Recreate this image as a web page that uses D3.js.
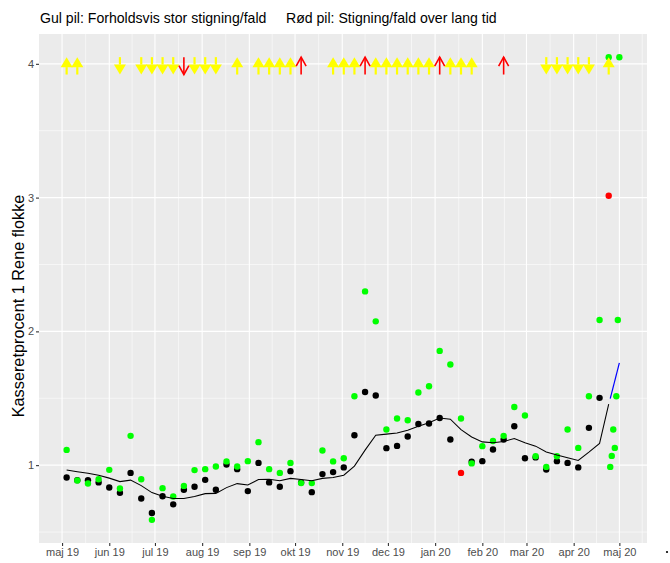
<!DOCTYPE html>
<html>
<head>
<meta charset="utf-8">
<script src="https://cdn.jsdelivr.net/npm/d3@7"></script>
<style>
  body { margin: 0; background: #ffffff; }
  text { font-family: "Liberation Sans", Arial, sans-serif; }
</style>
</head>
<body>
<svg id="chart" width="670" height="563"></svg>
<script>
// ---------------- DATA ----------------
const weekDates = [
  "2019-05-04","2019-05-11","2019-05-18","2019-05-25","2019-06-01","2019-06-08","2019-06-15","2019-06-22",
  "2019-06-29","2019-07-06","2019-07-13","2019-07-20","2019-07-27","2019-08-03","2019-08-10","2019-08-17",
  "2019-08-24","2019-08-31","2019-09-07","2019-09-14","2019-09-21","2019-09-28","2019-10-05","2019-10-12",
  "2019-10-19","2019-10-26","2019-11-02","2019-11-09","2019-11-16","2019-11-23","2019-11-30","2019-12-07",
  "2019-12-14","2019-12-21","2019-12-28","2020-01-04","2020-01-11","2020-01-18","2020-01-25","2020-02-01",
  "2020-02-08","2020-02-15","2020-02-22","2020-02-29","2020-03-07","2020-03-14","2020-03-21","2020-03-28",
  "2020-04-04","2020-04-11","2020-04-18","2020-04-24"
];
// weekly flock value (black points; outliers drawn red)
const blackVals = [
  0.908,0.888,0.888,0.871,0.833,0.793,0.942,0.751,
  0.642,0.768,0.707,0.816,0.838,0.890,0.816,1.005,
  0.970,0.806,1.017,0.871,0.838,0.955,0.871,0.798,
  0.933,0.948,0.983,1.224,1.547,1.521,1.127,1.144,
  1.214,1.308,1.311,1.353,1.192,0.942,1.025,1.030,
  1.117,1.192,1.291,1.052,1.058,0.968,1.030,1.017,
  0.983,1.279,1.503,3.014
];
const redPointIdx = [37, 51];
// green points
const greenVals = [
  1.114,0.885,0.863,0.895,0.965,0.826,1.219,0.895,
  0.591,0.828,0.766,0.845,0.963,0.970,0.990,1.028,
  0.990,1.030,1.172,0.970,0.942,1.017,0.866,0.866,
  1.110,1.028,1.052,1.515,2.299,2.075,1.267,1.349,
  1.336,1.543,1.590,1.854,1.752,1.349,1.013,1.142,
  1.181,1.219,1.435,1.371,1.067,0.987,1.067,1.267,
  1.129,1.515,2.085,4.049
];
const dailyDates = ["2020-04-25","2020-04-26","2020-04-27","2020-04-28","2020-04-29","2020-04-30","2020-05-01"];
const dailyGreen = [0.987,1.069,1.267,1.129,1.515,2.085,4.049];
// trend line (black)
const trendVals = [
  0.963,0.951,0.940,0.925,0.903,0.877,0.888,0.847,
  0.795,0.768,0.750,0.751,0.765,0.787,0.789,0.832,
  0.862,0.851,0.892,0.895,0.884,0.901,0.892,0.883,
  0.901,0.907,0.925,0.993,1.112,1.224,1.232,1.241,
  1.261,1.291,1.317,1.353,1.344,1.265,1.211,1.174,
  1.167,1.177,1.199,1.167,1.142,1.099,1.075,1.055,
  1.035,1.097,1.162,1.456
];
// blue projection
const blueDates = ["2020-04-25","2020-05-01"];
const blueVals = [1.498, 1.764];
// arrows (week indices)
const yellowUp = [0,1,16,18,19,20,21,25,26,27,29,30,31,32,33,34,36,37,38,51];
const yellowDown = [5,7,8,9,10,12,13,14,45,46,47,48,49];
const redUp = [22,28,35,41];
const redDown = [11];
// axis ticks
const xTickDates = ["2019-05-01","2019-06-01","2019-07-01","2019-08-01","2019-09-01","2019-10-01","2019-11-01",
  "2019-12-01","2020-01-01","2020-02-01","2020-03-01","2020-04-01","2020-05-01"];
const xTickLabels = ["maj 19","jun 19","jul 19","aug 19","sep 19","okt 19","nov 19","dec 19","jan 20","feb 20","mar 20","apr 20","maj 20"];
const yTicks = [1, 2, 3, 4];
const yMinor = [0.5, 1.5, 2.5, 3.5];
const titleText = "Gul pil: Forholdsvis stor stigning/fald     Rød pil: Stigning/fald over lang tid";
const yTitle = "Kasseretprocent 1 Rene flokke";

// ---------------- CHART ----------------
const parse = d3.utcParse("%Y-%m-%d");
const svg = d3.select("#chart");
const panel = { left: 39, right: 647, top: 34, bottom: 543 };

const allDates = weekDates.concat(dailyDates).map(parse);
const [dMin, dMax] = d3.extent(allDates);
const span = dMax - dMin;
const x = d3.scaleUtc()
  .domain([new Date(+dMin - span * 0.05), new Date(+dMax + span * 0.05)])
  .range([panel.left, panel.right]);

const allY = blackVals.concat(greenVals, dailyGreen, [3.92, 4.05]);
const [yMin, yMax] = d3.extent(allY);
const ySpan = yMax - yMin;
const y = d3.scaleLinear()
  .domain([yMin - ySpan * 0.05, yMax + ySpan * 0.05])
  .range([panel.bottom, panel.top]);

// background
svg.append("rect")
  .attr("x", panel.left).attr("y", panel.top)
  .attr("width", panel.right - panel.left).attr("height", panel.bottom - panel.top)
  .attr("fill", "#ebebeb");

const g = svg.append("g");

// minor x grid: midpoints between month ticks
const xt = xTickDates.map(parse);
const xMinor = [];
xMinor.push(new Date(+xt[0] - (xt[1] - xt[0]) / 2));
for (let i = 0; i < xt.length - 1; i++) xMinor.push(new Date((+xt[i] + +xt[i + 1]) / 2));
xMinor.push(new Date(+xt[xt.length - 1] + (xt[xt.length - 1] - xt[xt.length - 2]) / 2));
const xDom = x.domain();
g.selectAll(".xminor").data(xMinor.filter(d => d >= xDom[0] && d <= xDom[1])).enter().append("line")
  .attr("x1", d => x(d)).attr("x2", d => x(d))
  .attr("y1", panel.top).attr("y2", panel.bottom)
  .attr("stroke", "#ffffff").attr("stroke-width", 0.55);
g.selectAll(".yminor").data(yMinor).enter().append("line")
  .attr("x1", panel.left).attr("x2", panel.right)
  .attr("y1", d => y(d)).attr("y2", d => y(d))
  .attr("stroke", "#ffffff").attr("stroke-width", 0.55);
g.selectAll(".xmajor").data(xt).enter().append("line")
  .attr("x1", d => x(d)).attr("x2", d => x(d))
  .attr("y1", panel.top).attr("y2", panel.bottom)
  .attr("stroke", "#ffffff").attr("stroke-width", 1.1);
g.selectAll(".ymajor").data(yTicks).enter().append("line")
  .attr("x1", panel.left).attr("x2", panel.right)
  .attr("y1", d => y(d)).attr("y2", d => y(d))
  .attr("stroke", "#ffffff").attr("stroke-width", 1.1);

// axes
const xAxis = d3.axisBottom(x).tickValues(xt).tickSize(3).tickPadding(2)
  .tickFormat((d, i) => xTickLabels[i]);
const xa = svg.append("g").attr("transform", `translate(0,${panel.bottom})`).call(xAxis);
xa.select(".domain").remove();
xa.selectAll("line").attr("stroke", "#333333").attr("stroke-width", 1.1);
xa.selectAll("text").attr("fill", "#4d4d4d").style("font-size", "11px")
  .style("font-family", "'Liberation Sans', Arial, sans-serif");

const yAxis = d3.axisLeft(y).tickValues(yTicks).tickSize(3).tickPadding(2).tickFormat(d3.format("d"));
const ya = svg.append("g").attr("transform", `translate(${panel.left},0)`).call(yAxis);
ya.select(".domain").remove();
ya.selectAll("line").attr("stroke", "#333333").attr("stroke-width", 1.1);
ya.selectAll("text").attr("fill", "#4d4d4d").style("font-size", "11px")
  .style("font-family", "'Liberation Sans', Arial, sans-serif");

// points
const weeks = weekDates.map((d, i) => ({ date: parse(d), black: blackVals[i], green: greenVals[i], trend: trendVals[i], i }));
const R = 3.2;
g.selectAll(".bp").data(weeks).enter().append("circle")
  .attr("cx", d => x(d.date)).attr("cy", d => y(d.black)).attr("r", R)
  .attr("fill", d => redPointIdx.includes(d.i) ? "#ff0000" : "#000000");
g.selectAll(".gp").data(weeks).enter().append("circle")
  .attr("cx", d => x(d.date)).attr("cy", d => y(d.green)).attr("r", R)
  .attr("fill", "#00ff00");
g.selectAll(".gd").data(dailyDates.map((d, i) => ({ date: parse(d), v: dailyGreen[i] }))).enter().append("circle")
  .attr("cx", d => x(d.date)).attr("cy", d => y(d.v)).attr("r", R)
  .attr("fill", "#00ff00");

// trend line
const line = d3.line().x(d => x(d.date)).y(d => y(d.v));
g.append("path")
  .datum(weeks.map(d => ({ date: d.date, v: d.trend })))
  .attr("d", line).attr("fill", "none").attr("stroke", "#000000").attr("stroke-width", 1.05);
g.append("path")
  .datum(blueDates.map((d, i) => ({ date: parse(d), v: blueVals[i] })))
  .attr("d", line).attr("fill", "none").attr("stroke", "#0000ff").attr("stroke-width", 1.2);

// arrows
const lowV = 3.92, highV = 4.05;
function yellowArrow(idx, up) {
  const cx = x(parse(weekDates[idx]));
  const tail = up ? y(lowV) : y(highV);
  const tip = up ? y(highV) : y(lowV);
  const dir = up ? 1 : -1;
  const headLen = 10, halfW = 6;
  g.append("line").attr("x1", cx).attr("x2", cx)
    .attr("y1", tail).attr("y2", tip + dir * headLen)
    .attr("stroke", "#ffff00").attr("stroke-width", 2.2);
  g.append("path")
    .attr("d", `M${cx},${tip}L${cx - halfW},${tip + dir * headLen}L${cx + halfW},${tip + dir * headLen}Z`)
    .attr("fill", "#ffff00");
}
function redArrow(idx, up) {
  const cx = x(parse(weekDates[idx]));
  const tail = up ? y(lowV) : y(highV);
  const tip = up ? y(highV) : y(lowV);
  const dir = up ? 1 : -1;
  g.append("line").attr("x1", cx).attr("x2", cx).attr("y1", tail).attr("y2", tip)
    .attr("stroke", "#ff0000").attr("stroke-width", 1.6);
  g.append("path")
    .attr("d", `M${cx - 5},${tip + dir * 9}L${cx},${tip}L${cx + 5},${tip + dir * 9}`)
    .attr("fill", "none").attr("stroke", "#ff0000").attr("stroke-width", 1.6);
}
yellowUp.forEach(i => yellowArrow(i, true));
yellowDown.forEach(i => yellowArrow(i, false));
redUp.forEach(i => redArrow(i, true));
redDown.forEach(i => redArrow(i, false));

// titles
svg.append("text")
  .attr("x", 40).attr("y", 23)
  .style("font-size", "14.1px").style("white-space", "pre").attr("fill", "#000000")
  .text(titleText);
svg.append("text")
  .attr("transform", `translate(23.5,306) rotate(-90)`)
  .attr("text-anchor", "middle")
  .style("font-size", "16.3px").attr("fill", "#000000")
  .text(yTitle);

// small stray mark at lower right (as in original)
svg.append("circle").attr("cx", 667).attr("cy", 552).attr("r", 1.1).attr("fill", "#000000");
</script>
</body>
</html>
